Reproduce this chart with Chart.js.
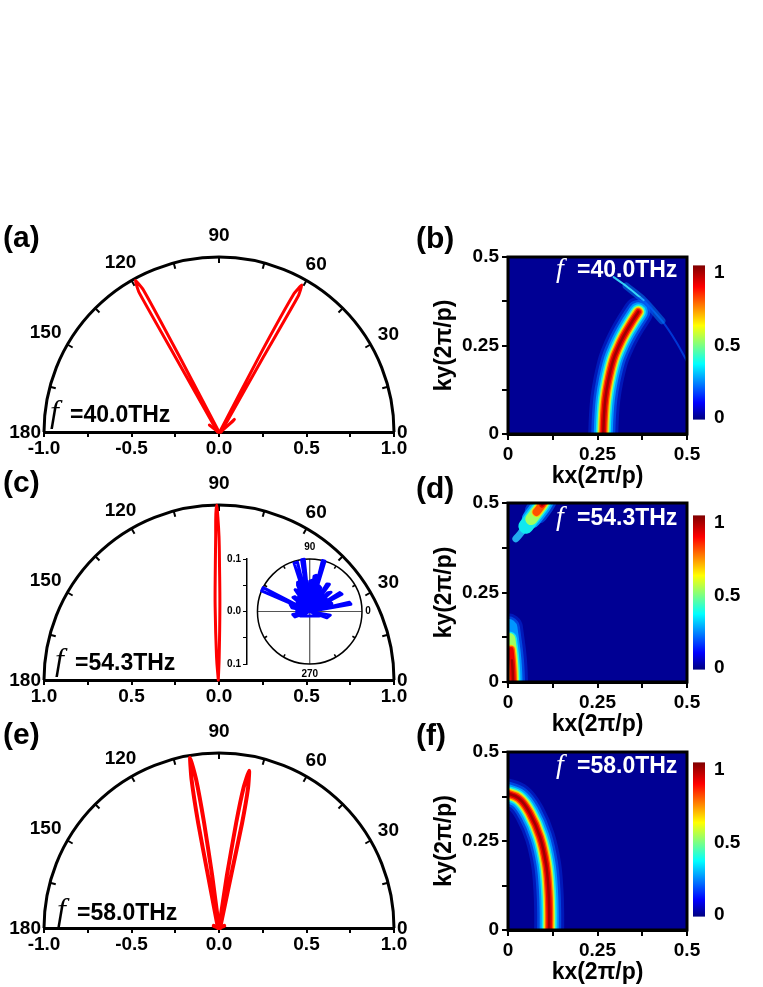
<!DOCTYPE html>
<html>
<head>
<meta charset="utf-8">
<title>Far-field patterns and k-space maps</title>
<script src="https://cdn.jsdelivr.net/npm/chart.js@4.4.1/dist/chart.umd.min.js"></script>
<style>
  html, body { margin: 0; padding: 0; background: #fff; }
  #page { position: relative; width: 763px; height: 987px; overflow: hidden; }
  canvas { position: absolute; }
</style>
</head>
<body>
<div id="page">
  <canvas id="polarA" width="430" height="240" style="left:0;top:220px"></canvas>
  <canvas id="polarC" width="430" height="240" style="left:0;top:468px"></canvas>
  <canvas id="polarE" width="430" height="240" style="left:0;top:716px"></canvas>
  <canvas id="inset" width="165" height="150" style="left:217px;top:535px"></canvas>
  <canvas id="heatB" width="310" height="270" style="left:395px;top:220px"></canvas>
  <canvas id="heatD" width="310" height="272" style="left:395px;top:466px"></canvas>
  <canvas id="heatF" width="310" height="271" style="left:395px;top:715px"></canvas>
  <canvas id="barB" width="73" height="195" style="left:690px;top:245px"></canvas>
  <canvas id="barD" width="73" height="195" style="left:690px;top:495px"></canvas>
  <canvas id="barF" width="73" height="195" style="left:690px;top:742px"></canvas>
</div>
<script>
// ---- data ----
const polarAngleLabels = [0, 30, 60, 90, 120, 150, 180];
const colorbarTicks = [0, 0.5, 1];
const jetStops = [[0, '#00007f'], [0.11, '#0000ff'], [0.36, '#00ffff'], [0.61, '#ffff00'], [0.86, '#ff0000'], [1, '#7f0000']];

// (a) 40.0 THz far field
const aRightX = [0.004, 0.235, 0.429, 0.473, 0.453, 0.255, 0.012];
const aRightY = [0.0, 0.442, 0.791, 0.840, 0.777, 0.431, 0.0];
const aLeftX = [0.0, -0.232, -0.432, -0.478, -0.457, -0.251, -0.008];
const aLeftY = [0.0, 0.443, 0.812, 0.866, 0.798, 0.432, 0.0];
const aBarbX = [-0.055, -0.004, 0.01, 0.088, 0.08, 0.008];
const aBarbY = [0.04, 0.0, 0.0, 0.072, 0.062, 0.0];

// (c) 54.3 THz far field
const cLobeX = [-0.004, 0.001, 0.005, 0.003, 0.0, -0.008, -0.013, -0.018, -0.019, -0.021, -0.022, -0.014, -0.004];
const cLobeY = [0.0, 0.13, 0.42, 0.65, 0.82, 0.95, 1.0, 0.95, 0.82, 0.65, 0.42, 0.13, 0.0];

// (c) inset, spikes as (angle deg, radius)
const insetDeg = [0, 104, 108, 0, 96, 99, 0, 73, 76, 0, 153, 157, 0, 10, 13, 0, 28, 32, 0, 54, 58, 0, 42, 46, 0, 118, 124, 0, 85, 90, 0, 135, 140, 0, 160, 168, 0, 190, 200, 0, 340, 350, 0, 65, 70, 0, 112, 115, 0, 20, 24, 0, 175, 182, 0, 80, 83, 0, 100, 126, 0, 60, 92, 0, 47, 50, 0, 128, 133, 0, 145, 150, 0, 35, 38, 0, 205, 335, 0];
const insetR = [0, 0.097, 0.097, 0, 0.1, 0.1, 0, 0.1, 0.1, 0, 0.1, 0.1, 0, 0.08, 0.078, 0, 0.07, 0.068, 0, 0.064, 0.062, 0, 0.055, 0.05, 0, 0.045, 0.05, 0, 0.06, 0.058, 0, 0.04, 0.042, 0, 0.04, 0.035, 0, 0.033, 0.03, 0, 0.035, 0.04, 0, 0.05, 0.052, 0, 0.06, 0.055, 0, 0.045, 0.043, 0, 0.025, 0.025, 0, 0.07, 0.068, 0, 0.035, 0.035, 0, 0.04, 0.04, 0, 0.035, 0.035, 0, 0.035, 0.035, 0, 0.028, 0.028, 0, 0.04, 0.04, 0, 0.02, 0.02, 0];

// (e) 58.0 THz far field
const eLeftX = [0.0, -0.039, -0.085, -0.131, -0.165, -0.157, -0.119, -0.063, -0.006];
const eLeftY = [0.0, 0.3, 0.6, 0.85, 0.973, 0.85, 0.6, 0.3, 0.0];
const eRightX = [0.0, 0.045, 0.098, 0.140, 0.172, 0.166, 0.132, 0.069, 0.006];
const eRightY = [0.0, 0.3, 0.6, 0.8, 0.898, 0.8, 0.6, 0.3, 0.0];
const eBaseX = [-0.03, 0.0, 0.03];
const eBaseY = [0.012, 0.0, 0.012];

// k-space ridges
const bRidgeX = [0.266, 0.268, 0.272, 0.280, 0.294, 0.308, 0.322, 0.343, 0.364];
const bRidgeY = [0.0, 0.05, 0.10, 0.15, 0.209, 0.245, 0.275, 0.312, 0.345];
const bEdgeX = [0.295, 0.33, 0.379, 0.43, 0.47, 0.5];
const bEdgeY = [0.443, 0.418, 0.378, 0.32, 0.26, 0.205];
const dLowX = [0.014, 0.013, 0.011, 0.008, 0.004, 0.0];
const dLowY = [0.0, 0.03, 0.06, 0.09, 0.12, 0.15];
const dHighX = [0.022, 0.035, 0.05, 0.065, 0.08, 0.095, 0.104];
const dHighY = [0.40, 0.415, 0.435, 0.455, 0.475, 0.495, 0.51];
const fRidgeX = [-0.01, 0.03, 0.061, 0.089, 0.106, 0.113, 0.115, 0.115];
const fRidgeY = [0.386, 0.37, 0.328, 0.262, 0.187, 0.112, 0.05, 0.0];

// ---- styling ----
const SANS = '"Liberation Sans", Arial, sans-serif';
const SERIF = '"Liberation Serif", "Times New Roman", serif';
Chart.defaults.font.family = SANS;
Chart.defaults.font.weight = 'bold';
Chart.defaults.color = '#000';

const heatBackground = 'rgb(0,0,148)';
// outer -> inner; Chart.js paints dataset 0 last, so these get reversed
const glowLayers = [
  { w: 30, c: 'rgba(0,70,255,0.35)' },
  { w: 24, c: 'rgba(0,110,255,0.55)' },
  { w: 19, c: '#0096ff' },
  { w: 15, c: '#10e8f0' },
  { w: 12, c: '#a0ff60' },
  { w: 10, c: '#ffd000' },
  { w: 8, c: '#ff5000' },
  { w: 5.5, c: '#e80000' },
  { w: 2.5, c: '#a00000' }
];

function toPoints(xs, ys) {
  return xs.map((x, i) => ({ x: x, y: ys[i] }));
}

function lineSet(xs, ys, color, width, tension) {
  return {
    data: toPoints(xs, ys), showLine: true, borderColor: color, borderWidth: width,
    pointRadius: 0, tension: tension || 0, borderJoinStyle: 'round', borderCapStyle: 'round', clip: false
  };
}

// ranges[i] = [from, to] slice of the ridge for layer i, or null to skip the layer
function ridge(xs, ys, ranges) {
  const layers = [];
  glowLayers.forEach((g, i) => {
    const r = ranges ? ranges[i] : [0, xs.length];
    if (!r) return;
    layers.push({
      data: toPoints(xs.slice(r[0], r[1]), ys.slice(r[0], r[1])), showLine: true,
      borderColor: g.c, borderWidth: g.w, pointRadius: 0, tension: 0.4,
      borderCapStyle: 'round', borderJoinStyle: 'round', clip: 0
    });
  });
  return layers.reverse();
}

function textPlugin(items, ox, oy) {
  return {
    id: 'labels',
    afterDraw(chart) {
      const ctx = chart.ctx;
      ctx.save();
      items.forEach(it => {
        ctx.font = it.font;
        ctx.fillStyle = it.color || '#000';
        ctx.textAlign = 'left';
        ctx.textBaseline = it.base || 'alphabetic';
        ctx.fillText(it.text, it.x - ox, it.y - oy);
      });
      ctx.restore();
    }
  };
}

const polarFrame = {
  id: 'polarFrame',
  beforeDatasetsDraw(chart) {
    const { ctx, scales: { x, y } } = chart;
    const cx = x.getPixelForValue(0), cy = y.getPixelForValue(0);
    const R = x.getPixelForValue(1) - cx;
    ctx.save();
    ctx.strokeStyle = '#000';
    ctx.lineWidth = 3;
    ctx.beginPath();
    ctx.arc(cx, cy, R, Math.PI, 2 * Math.PI);
    ctx.stroke();
    ctx.lineWidth = 2;
    for (let d = 15; d < 180; d += 15) {
      const a = d * Math.PI / 180;
      ctx.beginPath();
      ctx.moveTo(cx + R * Math.cos(a), cy - R * Math.sin(a));
      ctx.lineTo(cx + (R - 6) * Math.cos(a), cy - (R - 6) * Math.sin(a));
      ctx.stroke();
    }
    ctx.fillStyle = '#000';
    ctx.font = 'bold 19px ' + SANS;
    ctx.textAlign = 'center';
    ctx.textBaseline = 'middle';
    polarAngleLabels.forEach(d => {
      const a = d * Math.PI / 180, c = Math.cos(a), s = Math.sin(a);
      const t = String(d), w = ctx.measureText(t).width;
      const gap = d === 90 ? 15 : (d === 0 || d === 180 ? 3 : 8);
      const dist = R + gap + Math.abs(c) * w / 2 + Math.abs(s) * 7;
      ctx.fillText(t, cx + dist * c, cy - dist * s + 1);
    });
    ctx.restore();
  }
};

const heatFrame = {
  id: 'heatFrame',
  beforeDatasetsDraw(chart) {
    const { ctx, chartArea: a } = chart;
    ctx.save();
    ctx.fillStyle = heatBackground;
    ctx.fillRect(a.left, a.top, a.right - a.left, a.bottom - a.top);
    ctx.restore();
  },
  afterDatasetsDraw(chart) {
    const { ctx, chartArea: a } = chart;
    ctx.save();
    ctx.strokeStyle = '#000';
    ctx.lineWidth = 3;
    ctx.strokeRect(a.left, a.top, a.right - a.left, a.bottom - a.top);
    ctx.restore();
  }
};

const colorbarFill = {
  id: 'colorbarFill',
  beforeDatasetsDraw(chart) {
    const { ctx, chartArea: a } = chart;
    const g = ctx.createLinearGradient(0, a.bottom, 0, a.top);
    jetStops.forEach(s => g.addColorStop(s[0], s[1]));
    ctx.save();
    ctx.fillStyle = g;
    ctx.fillRect(a.left, a.top, a.right - a.left, a.bottom - a.top);
    ctx.restore();
  }
};

const insetFrame = {
  id: 'insetFrame',
  beforeDatasetsDraw(chart) {
    const { ctx, scales: { x, y } } = chart;
    const cx = x.getPixelForValue(0), cy = y.getPixelForValue(0);
    const rx = x.getPixelForValue(0.1) - cx, ry = cy - y.getPixelForValue(0.1);
    ctx.save();
    ctx.strokeStyle = '#555';
    ctx.lineWidth = 1.2;
    ctx.beginPath();
    ctx.moveTo(cx - rx, cy); ctx.lineTo(cx + rx, cy);
    ctx.moveTo(cx, cy - ry); ctx.lineTo(cx, cy + ry);
    ctx.stroke();
    ctx.strokeStyle = '#000';
    ctx.lineWidth = 1.5;
    ctx.beginPath();
    ctx.ellipse(cx, cy, rx, ry, 0, 0, 2 * Math.PI);
    ctx.stroke();
    for (let d = 30; d < 360; d += 30) {
      if (d % 90 === 0) continue;
      const a = d * Math.PI / 180;
      ctx.beginPath();
      ctx.moveTo(cx + rx * Math.cos(a), cy - ry * Math.sin(a));
      ctx.lineTo(cx + (rx - 3) * Math.cos(a), cy - (ry - 3) * Math.sin(a));
      ctx.stroke();
    }
    ctx.fillStyle = '#000';
    ctx.font = 'bold 10px ' + SANS;
    ctx.textAlign = 'center';
    ctx.textBaseline = 'middle';
    ctx.fillText('90', cx, cy - ry - 12);
    ctx.fillText('270', cx, cy + ry + 10);
    ctx.fillText('0', cx + rx + 6, cy);
    ctx.restore();
  }
};

// ---- chart builders ----
function halfStep(v) {
  return Math.abs(v * 2 - Math.round(v * 2)) < 1e-6;
}

function polarChart(id, top, datasets, absLabels, texts) {
  new Chart(document.getElementById(id), {
    type: 'scatter',
    data: { datasets: datasets },
    options: {
      responsive: false,
      animation: false,
      layout: { padding: { left: 44, right: 36, top: 37, bottom: 0 } },
      plugins: { legend: { display: false }, tooltip: { enabled: false } },
      scales: {
        x: {
          type: 'linear', min: -1, max: 1,
          ticks: {
            stepSize: 0.25, autoSkip: false, maxRotation: 0, padding: 0,
            font: { size: 19, weight: 'bold' }, color: '#000',
            callback: v => halfStep(v) ? (absLabels ? Math.abs(v) : v).toFixed(1) : ''
          },
          grid: { drawOnChartArea: false, tickLength: 5, color: '#000', lineWidth: 2 },
          border: { color: '#000', width: 3 },
          afterFit: s => { s.height = 28; }
        },
        y: { type: 'linear', min: 0, max: 1, display: false }
      }
    },
    plugins: [polarFrame, textPlugin(texts, 0, top)]
  });
}

function kLabel(v) {
  if (Math.abs(v) < 1e-6) return '0';
  if (Math.abs(v - 0.25) < 1e-6) return '0.25';
  if (Math.abs(v - 0.5) < 1e-6) return '0.5';
  return '';
}

function heatChart(id, top, datasets, texts) {
  const axisTicks = {
    stepSize: 0.125, autoSkip: false, maxRotation: 0, padding: 3,
    font: { size: 19, weight: 'bold' }, color: '#000', callback: kLabel
  };
  new Chart(document.getElementById(id), {
    type: 'scatter',
    data: { datasets: datasets },
    options: {
      responsive: false,
      animation: false,
      layout: { padding: { left: 0, right: 18, top: 37, bottom: 0 } },
      plugins: { legend: { display: false }, tooltip: { enabled: false } },
      scales: {
        x: {
          type: 'linear', min: 0, max: 0.5, ticks: axisTicks,
          grid: { drawOnChartArea: false, tickLength: 6, color: '#000', lineWidth: 2 },
          border: { color: '#000', width: 3 },
          title: { display: true, text: 'kx(2π/p)', color: '#000', font: { size: 23, weight: 'bold' }, padding: { top: 0, bottom: 0 } },
          afterFit: s => { s.height = 56; }
        },
        y: {
          type: 'linear', min: 0, max: 0.5, ticks: axisTicks,
          grid: { drawOnChartArea: false, tickLength: 6, color: '#000', lineWidth: 2 },
          border: { color: '#000', width: 3 },
          title: { display: true, text: 'ky(2π/p)', color: '#000', font: { size: 23, weight: 'bold' }, padding: { top: 36, bottom: 0 } },
          afterFit: s => { s.width = 113; }
        }
      }
    },
    plugins: [heatFrame, textPlugin(texts, 395, top)]
  });
}

function colorbar(id) {
  new Chart(document.getElementById(id), {
    type: 'scatter',
    data: { datasets: [] },
    options: {
      responsive: false,
      animation: false,
      layout: { padding: { left: 3, right: 0, top: 10, bottom: 17 } },
      plugins: { legend: { display: false }, tooltip: { enabled: false } },
      scales: {
        x: { type: 'linear', min: 0, max: 1, display: false },
        y: {
          type: 'linear', position: 'right', min: -0.01, max: 1.05,
          afterBuildTicks: axis => { axis.ticks = colorbarTicks.map(v => ({ value: v })); },
          ticks: { padding: 9, font: { size: 19, weight: 'bold' }, color: '#000', callback: v => String(v) },
          grid: { display: false, drawTicks: false },
          border: { display: false },
          afterFit: s => { s.width = 58; }
        }
      }
    },
    plugins: [colorbarFill]
  });
}

function fNote(x, baseline, freq, color, size) {
  return [
    { text: 'f', x: x, y: baseline, font: 'italic ' + size + 'px ' + SERIF, color: color },
    { text: freq, x: x + (color === '#fff' ? 21 : 20), y: baseline, font: 'bold 23px ' + SANS, color: color }
  ];
}
function panelLabel(t, x, y) {
  return { text: t, x: x, y: y, font: 'bold 30px ' + SANS, base: 'middle' };
}

// ---- left column: far-field half plots ----
const red = '#ff0000';
polarChart('polarA', 220, [
  lineSet(aRightX, aRightY, red, 3, 0.15),
  lineSet(aLeftX, aLeftY, red, 3, 0.15),
  lineSet(aBarbX, aBarbY, red, 3, 0)
], false, [panelLabel('(a)', 3, 239)].concat(fNote(50, 422, '=40.0THz', '#000', 32)));

polarChart('polarC', 468, [
  lineSet(cLobeX, cLobeY, red, 3, 0.4)
], true, [panelLabel('(c)', 3, 484)].concat(fNote(55, 670, '=54.3THz', '#000', 32)));

polarChart('polarE', 716, [
  lineSet(eLeftX, eLeftY, red, 4, 0.15),
  lineSet(eRightX, eRightY, red, 4, 0.15),
  lineSet(eBaseX, eBaseY, red, 4, 0)
], false, [panelLabel('(e)', 3, 736)].concat(fNote(57, 920, '=58.0THz', '#000', 32)));

// inset of (c)
new Chart(document.getElementById('inset'), {
  type: 'scatter',
  data: {
    datasets: [{
      data: insetDeg.map((d, i) => ({ x: insetR[i] * Math.cos(d * Math.PI / 180), y: insetR[i] * Math.sin(d * Math.PI / 180) })),
      showLine: true, borderColor: '#0000ff', borderWidth: 3, pointRadius: 0, tension: 0,
      borderJoinStyle: 'round', clip: false
    }]
  },
  options: {
    responsive: false,
    animation: false,
    layout: { padding: { left: 0, right: 20, top: 24, bottom: 21 } },
    plugins: { legend: { display: false }, tooltip: { enabled: false } },
    scales: {
      x: { type: 'linear', min: -0.12, max: 0.1, display: false },
      y: {
        type: 'linear', min: -0.1, max: 0.1,
        ticks: {
          stepSize: 0.05, autoSkip: false, padding: 2, font: { size: 10, weight: 'bold' }, color: '#000',
          callback: v => Math.abs(Math.abs(v) - 0.05) < 1e-6 ? '' : Math.abs(v).toFixed(1)
        },
        grid: { drawOnChartArea: false, tickLength: 4, color: '#000', lineWidth: 1 },
        border: { color: '#000', width: 1.5 },
        afterFit: s => { s.width = 30; }
      }
    }
  },
  plugins: [insetFrame]
});

// ---- right column: k-space maps ----
const bEdges = [
  lineSet(bEdgeX.slice(0, 3), bEdgeY.slice(0, 3), 'rgba(60,230,255,0.9)', 2, 0.3),
  lineSet(bEdgeX.slice(1, 4), bEdgeY.slice(1, 4), 'rgba(0,150,255,0.45)', 7, 0.3),
  lineSet(bEdgeX.slice(2), bEdgeY.slice(2), 'rgba(0,90,255,0.6)', 2, 0.3)
].map(d => Object.assign(d, { clip: 0 }));
heatChart('heatB', 220, ridge(bRidgeX, bRidgeY).concat(bEdges),
  [panelLabel('(b)', 416, 240)].concat(fNote(556, 277, '=40.0THz', '#fff', 28)));

const dLead = Object.assign(lineSet(dHighX.slice(0, 4), dHighY.slice(0, 4), 'rgba(40,200,255,0.85)', 7, 0.4), { clip: 0 });
const dDatasets = ridge(dLowX, dLowY, [[0, 6], [0, 6], [0, 6], [0, 5], [0, 5], [0, 4], [0, 4], [0, 4], [0, 3]])
  .concat(ridge(dHighX, dHighY, [null, [4, 7], [3, 7], [2, 7], [3, 7], [4, 7], [4, 7], [5, 7], [5, 7]]))
  .concat([dLead]);
heatChart('heatD', 466, dDatasets,
  [panelLabel('(d)', 416, 490)].concat(fNote(556, 525, '=54.3THz', '#fff', 28)));

heatChart('heatF', 715, ridge(fRidgeX, fRidgeY),
  [panelLabel('(f)', 416, 737)].concat(fNote(556, 773, '=58.0THz', '#fff', 28)));

colorbar('barB');
colorbar('barD');
colorbar('barF');
</script>
</body>
</html>
